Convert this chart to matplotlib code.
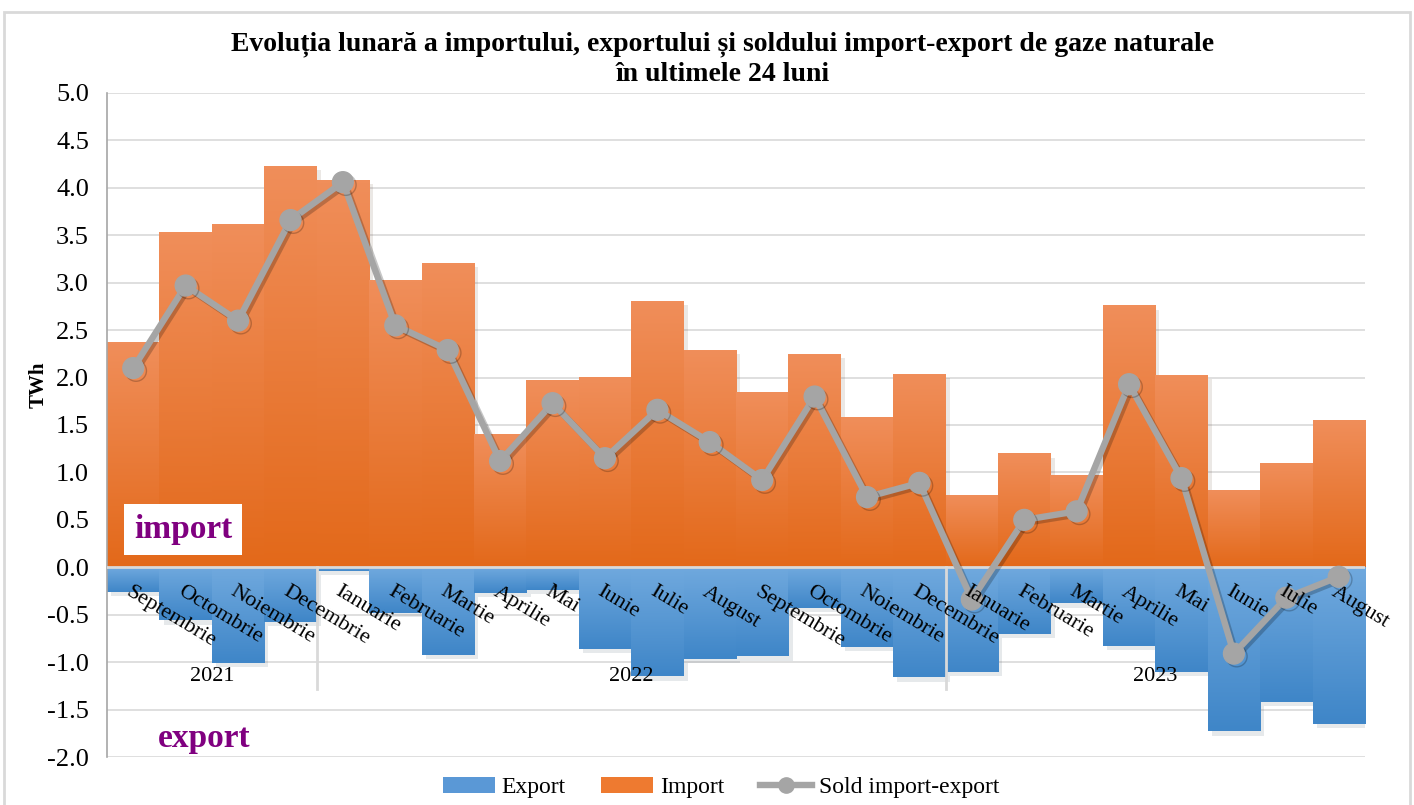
import numpy as np
import matplotlib
matplotlib.use("Agg")
import matplotlib.pyplot as plt
from matplotlib.colors import LinearSegmentedColormap
from matplotlib.lines import Line2D
from matplotlib.patches import Patch, Rectangle
import matplotlib.patheffects as pe

SERIF = ["Liberation Serif", "DejaVu Serif"]
plt.rcParams["font.family"] = SERIF

months = ["Septembrie", "Octombrie", "Noiembrie", "Decembrie",
          "Ianuarie", "Februarie", "Martie", "Aprilie", "Mai", "Iunie", "Iulie", "August",
          "Septembrie", "Octombrie", "Noiembrie", "Decembrie",
          "Ianuarie", "Februarie", "Martie", "Aprilie", "Mai", "Iunie", "Iulie", "August"]
years = ["2021", "2022", "2023"]
year_counts = [4, 12, 8]

import_twh = [2.37, 3.53, 3.62, 4.23, 4.08, 3.03, 3.21, 1.40, 1.97, 2.01, 2.81, 2.29,
              1.85, 2.25, 1.58, 2.04, 0.76, 1.20, 0.97, 2.76, 2.03, 0.81, 1.10, 1.55]
export_twh = [-0.26, -0.56, -1.01, -0.58, -0.04, -0.48, -0.92, -0.27, -0.24, -0.86, -1.15, -0.97,
              -0.94, -0.43, -0.84, -1.16, -1.10, -0.70, -0.38, -0.83, -1.10, -1.73, -1.42, -1.65]
sold_twh = [2.10, 2.97, 2.60, 3.66, 4.06, 2.55, 2.29, 1.12, 1.73, 1.15, 1.66, 1.32,
            0.92, 1.80, 0.74, 0.89, -0.34, 0.50, 0.59, 1.93, 0.94, -0.91, -0.32, -0.10]

ORANGE_TOP, ORANGE_BOT = "#F08E5A", "#E3691A"
BLUE_TOP, BLUE_BOT = "#70A9DE", "#3F86C8"
GREY = "#A5A5A5"
PURPLE = "#800080"

fig = plt.figure(figsize=(14.14, 8.05), dpi=100)
ax = fig.add_axes([0.0757, 0.0596, 0.8896, 0.8249])

x = np.arange(len(months))
ax.set_xlim(-0.5, len(months) - 0.5)
ax.set_ylim(-2.0, 5.0)

# gridlines
ax.set_yticks(np.arange(-2.0, 5.01, 0.5))
ax.set_yticklabels([f"{v:.1f}" for v in np.arange(-2.0, 5.01, 0.5)], fontsize=19)
ax.yaxis.grid(True, color="#D9D9D9", lw=1.2)
ax.set_axisbelow(True)
ax.tick_params(axis="y", length=0, pad=13)
ax.set_xticks([])
for s in ["top", "right", "bottom"]:
    ax.spines[s].set_visible(False)
ax.spines["left"].set_color("#A6A6A6")
ax.spines["left"].set_linewidth(1.2)


def gradient_bars(vals, top_col, bot_col, z):
    cmap = LinearSegmentedColormap.from_list("g", [bot_col, top_col])
    grad = np.linspace(1, 0, 64).reshape(-1, 1)
    bars = ax.bar(x, vals, width=1.0, color=bot_col, zorder=z,
                  path_effects=[pe.SimplePatchShadow(offset=(3, -3), alpha=0.1),
                                pe.Normal()])
    for b in bars:
        x0, w, y0, h = b.get_x(), b.get_width(), b.get_y(), b.get_height()
        y_lo, y_hi = min(y0, y0 + h), max(y0, y0 + h)
        im = ax.imshow(grad, cmap=cmap, extent=[x0, x0 + w, y_lo, y_hi],
                       aspect="auto", interpolation="bicubic", zorder=z + 0.1)
        im.set_clip_path(b)
    return bars


gradient_bars(import_twh, ORANGE_TOP, ORANGE_BOT, 2)
gradient_bars(export_twh, BLUE_TOP, BLUE_BOT, 2)
ax.set_xlim(-0.5, len(months) - 0.5)
ax.set_ylim(-2.0, 5.0)
ax.axhline(0, color="#D9D9D9", lw=2, zorder=3)

# year separators
bounds = np.cumsum(year_counts)[:-1] - 0.5
for b in bounds:
    ax.plot([b, b], [0, -1.28], color="#D9D9D9", lw=2, zorder=3.5)

ax.plot(x, sold_twh, color=GREY, lw=4.6, marker="o", ms=15, zorder=5,
        path_effects=[pe.SimpleLineShadow(offset=(2, -2), alpha=0.22), pe.Normal()])

# month labels
for i, m in enumerate(months):
    ax.text(x[i] - 0.02, -0.16, m, rotation=-31, rotation_mode="anchor",
            ha="left", va="top", fontsize=16, zorder=6)

# year labels
start = 0
for yr, n in zip(years, year_counts):
    ax.text(start + (n - 1) / 2, -1.15, yr, ha="center", va="center", fontsize=16, zorder=6)
    start += n

fig.text(0.511, 0.945, "Evoluția lunară a importului, exportului și soldului import-export de gaze naturale",
         ha="center", va="center", fontsize=20, fontweight="bold")
fig.text(0.511, 0.908, "în ultimele 24 luni",
         ha="center", va="center", fontsize=20, fontweight="bold")
fig.text(0.027, 0.522, "TWh", rotation=90, ha="center", va="center", fontsize=15, fontweight="bold")

fig.text(0.1295, 0.342, "import", ha="center", va="center", fontsize=24, fontweight="bold",
         color=PURPLE, bbox=dict(facecolor="white", edgecolor="none", boxstyle="square,pad=0.3"))
fig.text(0.1445, 0.083, "export", ha="center", va="center", fontsize=24, fontweight="bold",
         color=PURPLE)

handles = [Patch(facecolor="#5A98D6", edgecolor="none", label="Export"),
           Patch(facecolor="#EE7A30", edgecolor="none", label="Import"),
           Line2D([0], [0], color=GREY, lw=4.6, marker="o", ms=11, label="Sold import-export")]
fig.legend(handles=handles, loc="center", bbox_to_anchor=(0.51, 0.022), ncol=3,
           frameon=False, fontsize=17, handlelength=2.2, columnspacing=1.5, handletextpad=0.3)

# outer chart border
fig.patches.append(Rectangle((0.003, -0.01), 0.994, 0.995, transform=fig.transFigure,
                             fill=False, edgecolor="#D9D9D9", lw=2))

fig.savefig("out.png", dpi=100)
